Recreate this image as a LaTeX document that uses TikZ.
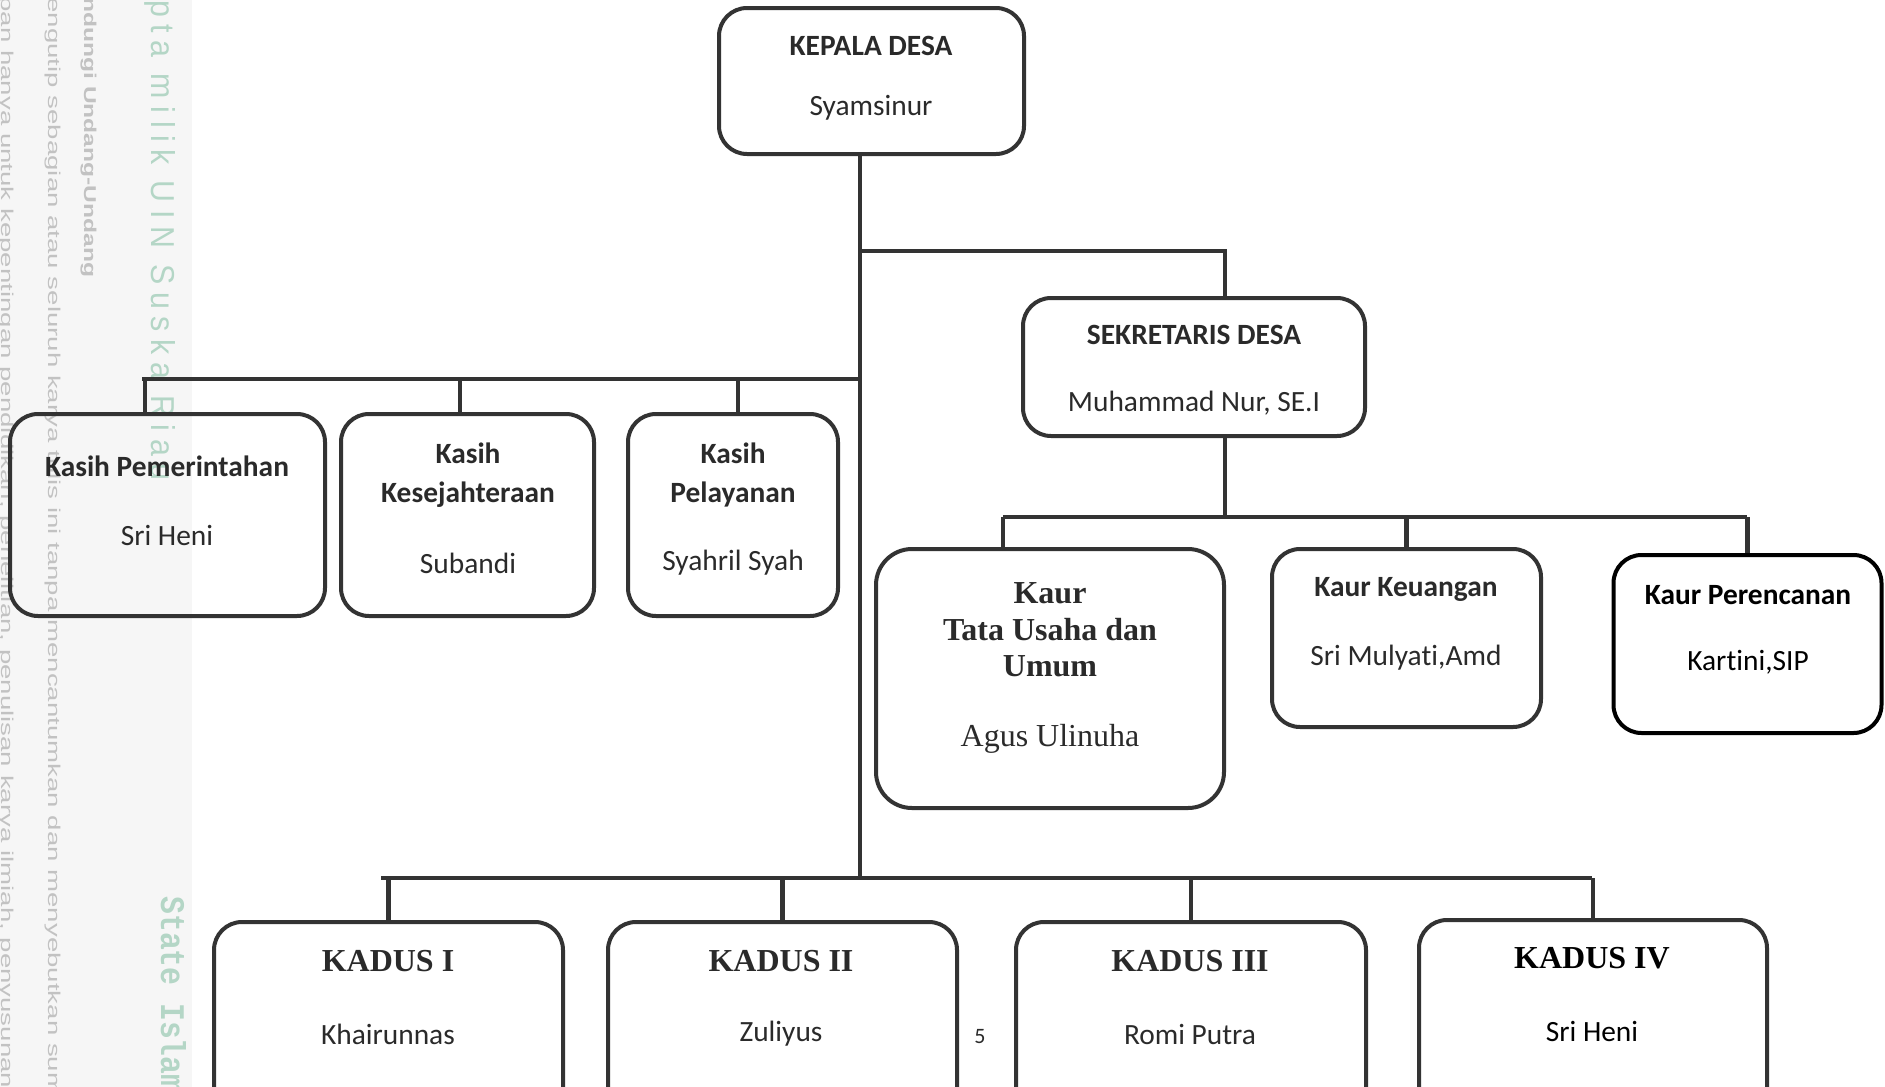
\documentclass[tikz,border=0pt]{standalone}
\usepackage{fontspec}
\setmainfont{Carlito}[Ligatures=NoCommon]
\newfontfamily\tnr{Liberation Serif}
\newfontfamily\wmsans{Liberation Sans}
\newfontfamily\wmmono{Liberation Mono}
\definecolor{lc}{HTML}{333333}
\definecolor{tc}{HTML}{2A2A2A}
\definecolor{wmgray}{HTML}{C2C2C2}
\definecolor{wmgreen}{HTML}{B4D6C6}
\definecolor{band}{HTML}{F6F6F6}
\begin{document}
\begin{tikzpicture}[x=0.5pt,y=-0.5pt,
  box/.style={draw=lc, line width=2pt, rounded corners=14pt, inner sep=0pt},
  bx/.style 2 args={minimum width=#1*0.5pt, minimum height=#2*0.5pt},
  link/.style={draw=lc, line width=2.2pt},
  t/.style={inner sep=0pt, text=tc, font=\fontsize{14.7}{17}\selectfont},
  tb/.style={inner sep=0pt, text=tc, font=\bfseries\fontsize{14.7}{17}\selectfont},
  ts/.style={inner sep=0pt, text=tc, font=\tnr\bfseries\fontsize{16}{19}\selectfont},
  tsr/.style={inner sep=0pt, text=tc, font=\tnr\fontsize{16}{19}\selectfont},
  wm/.style={inner sep=0pt, anchor=base west, rotate=-90}
]
\useasboundingbox (0,0) rectangle (1885,1087);
\clip (0,0) rectangle (1885,1087);
\fill[band] (0,0) rectangle (192,1087);

% watermark texts in the left margin
\node[wm, text=wmgray] (w1) at (2,-4) {\resizebox{546pt}{6.2pt}{\wmsans pan hanya untuk kepentingan pendidikan, penelitian, penulisan karya ilmiah, penyusunan}};
\node[wm, text=wmgray] (w2) at (48,-3) {\resizebox{549pt}{6.2pt}{\wmsans engutip sebagian atau seluruh karya tulis ini tanpa mencantumkan dan menyebutkan sum}};
\node[wm, text=wmgray] (w3) at (84,-3) {\resizebox{140pt}{6.2pt}{\wmsans\bfseries ndungi Undang-Undang}};
\node[wm, text=wmgreen] (w4) at (151,0) {\resizebox{240pt}{12pt}{\wmsans\addfontfeatures{LetterSpace=25}pta milik UIN Suska Riau}};
\node[wm, text=wmgreen] (w5) at (161,896) {\resizebox{98pt}{12.5pt}{\wmmono\bfseries State Islam}};

% boxes
\node[box, bx={305}{146}] (kd) at (871.5,81) {};
\node[box, bx={342}{138}] (sd) at (1194,367) {};
\node[box, bx={315}{202}] (k1) at (167.5,515) {};
\node[box, bx={253}{202}] (k2) at (467.5,515) {};
\node[box, bx={210}{202}] (k3) at (733,515) {};
\node[box, bx={348}{259}, rounded corners=18pt] (u1) at (1050,678.5) {};
\node[box, bx={269}{178}] (u2) at (1406.5,638) {};
\node[box, bx={268}{178}, draw=black] (u3) at (1747.5,644) {};
\node[box, bx={349}{218}] (d1) at (388.5,1031) {};
\node[box, bx={349}{218}] (d2) at (782.5,1031) {};
\node[box, bx={350}{218}] (d3) at (1191,1031) {};
\node[box, bx={348}{220}] (d4) at (1593,1030) {};

% junction coordinates
\coordinate (tr) at (860,878);
\coordinate (sj) at (860,251);
\coordinate (sx) at (1225,251);
\coordinate (kj) at (860,379);
\coordinate (kl) at (142,379);
\coordinate (kd1) at (145,379);
\coordinate (kd2) at (460,379);
\coordinate (kd3) at (738,379);
\coordinate (uj) at (1225,517);
\coordinate (ul) at (1003,517);
\coordinate (ur) at (1747,517);
\coordinate (dl) at (381,878);
\coordinate (dr) at (1592,878);

% connectors
\draw[link] (kd.south -| tr) -- (tr);
\draw[link] (sj) -- (sx) -- (sx |- sd.north);
\draw[link] (sd.south -| uj) -- (uj);
\draw[link] (ul) -- (ur);
\draw[link] (ul) -- (ul |- u1.north);
\draw[link] (u2.north) -- (u2.north |- uj);
\draw[link] (u3.north) -- (u3.north |- uj);
\draw[link] (kl) -- (kj);
\draw[link] (kd1) -- (kd1 |- k1.north);
\draw[link] (kd2) -- (kd2 |- k2.north);
\draw[link] (kd3) -- (kd3 |- k3.north);
\draw[link] (dl) -- (dr);
\draw[link] (d1.north) -- (d1.north |- dl);
\draw[link] (d2.north) -- (d2.north |- dl);
\draw[link] (d3.north) -- (d3.north |- dl);
\draw[link] (d4.north) -- (d4.north |- dl);

% texts
\node[tb] (kdA) at (871,46) {KEPALA DESA};
\node[t] (kdB) at (871,108) {Syamsinur};
\node[tb] (sdA) at (1194,335) {SEKRETARIS DESA};
\node[t] (sdB) at (1194,403) {Muhammad Nur, SE.I};
\node[tb] (k1A) at (167,466) {Kasih Pemerintahan};
\node[t] (k1B) at (167,535) {Sri Heni};
\node[tb] (k2A) at (468,453) {Kasih};
\node[tb] (k2B) at (468,495) {Kesejahteraan};
\node[t] (k2C) at (468,563) {Subandi};
\node[tb] (k3A) at (733,453) {Kasih};
\node[tb] (k3B) at (733,494) {Pelayanan};
\node[t] (k3C) at (733,563) {Syahril Syah};
\node[ts] (u1A) at (1050,593) {Kaur};
\node[ts] (u1B) at (1050,630) {Tata Usaha dan};
\node[ts] (u1C) at (1050,666) {Umum};
\node[tsr] (u1D) at (1050,739) {Agus Ulinuha};
\node[tb] (u2A) at (1406,589) {Kaur Keuangan};
\node[t] (u2B) at (1406,658) {Sri Mulyati,Amd};
\node[tb, text=black] (u3A) at (1748,595) {Kaur Perencanan};
\node[t, text=black] (u3B) at (1748,662) {Kartini,SIP};
\node[ts] (d1A) at (388,961) {KADUS I};
\node[t] (d1B) at (388,1034) {Khairunnas};
\node[ts] (d2A) at (781,961) {KADUS II};
\node[t] (d2B) at (781,1034) {Zuliyus};
\node[ts] (d3A) at (1190,961) {KADUS III};
\node[t] (d3B) at (1190,1034) {Romi Putra};
\node[ts, text=black] (d4A) at (1592,958) {KADUS IV};
\node[t, text=black] (d4B) at (1592,1031) {Sri Heni};
\node[t, font=\fontsize{11}{13}\selectfont] (pg) at (980,1037) {5};
\end{tikzpicture}
\end{document}
